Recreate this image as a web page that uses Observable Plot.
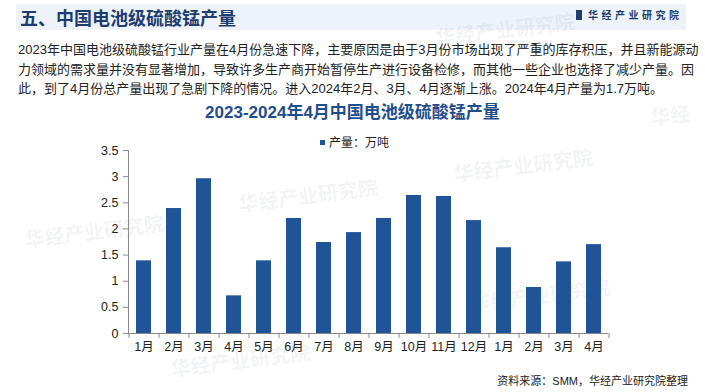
<!DOCTYPE html>
<html><head><meta charset="utf-8">
<script src="https://cdn.jsdelivr.net/npm/d3@7"></script>
<script src="https://cdn.jsdelivr.net/npm/@observablehq/plot@0.6"></script>
<style>
body{margin:0;width:705px;height:392px;background:#fff;position:relative;overflow:hidden;font-family:"Liberation Sans","Noto Sans CJK SC",sans-serif;}
#hdr{position:absolute;left:16px;top:4px;width:670px;height:26px;background:#eef3fa;}
#htitle{position:absolute;left:20px;top:4px;height:26px;line-height:26px;font-size:18px;font-weight:bold;color:#1f3c6e;font-family:"Noto Sans CJK SC",sans-serif;white-space:nowrap}
#logo{position:absolute;left:576px;top:8px;font-size:10px;line-height:14px;color:#1f3c6e;letter-spacing:3.5px;font-weight:bold;white-space:nowrap;font-family:"Noto Sans CJK SC",sans-serif}
#logo i{display:inline-block;width:6px;height:10px;background:#1f3c6e;margin-right:6px;vertical-align:-1px}
#para{position:absolute;left:18px;top:40px;font-size:13px;line-height:19.5px;color:#222;white-space:nowrap}
#ctitle{position:absolute;left:0;width:705px;top:101px;text-align:center;font-size:17px;line-height:24px;font-weight:bold;color:#1f4e8c;white-space:nowrap}
#legend{position:absolute;left:320px;top:135px;font-size:12px;line-height:16px;color:#222;white-space:nowrap}
#legend i{display:inline-block;width:5px;height:5px;background:#1F5596;margin-right:4px;vertical-align:2px}
#chart{position:absolute;left:0;top:140px}
#src{position:absolute;right:17px;top:373px;font-size:11px;line-height:16px;color:#222;white-space:nowrap}
.wm{position:absolute;font-size:20px;font-weight:bold;color:rgba(120,130,150,0.10);transform:rotate(-7deg);white-space:nowrap;font-family:"Noto Sans CJK SC",sans-serif;pointer-events:none}
</style>
</head>
<body>
<div id="hdr"></div>
<div class="wm" style="left:24px;top:216px">华经产业研究院</div>
<div class="wm" style="left:238px;top:180px">华经产业研究院</div>
<div class="wm" style="left:453px;top:150px">华经产业研究院</div>
<div class="wm" style="left:470px;top:280px">华经产业研究院</div>
<div class="wm" style="left:435px;top:14px">华经产业研究院</div>
<div class="wm" style="left:650px;top:100px">华经</div>
<div class="wm" style="left:170px;top:345px">华经产业研究院</div>
<div id="htitle">五、中国电池级硫酸锰产量</div>
<div id="logo"><i></i>华经产业研究院</div>
<div id="para">2023年中国电池级硫酸锰行业产量在4月份急速下降，主要原因是由于3月份市场出现了严重的库存积压，并且新能源动<br>力领域的需求量并没有显著增加，导致许多生产商开始暂停生产进行设备检修，而其他一些企业也选择了减少产量。因<br>此，到了4月份总产量出现了急剧下降的情况。进入2024年2月、3月、4月逐渐上涨。2024年4月产量为1.7万吨。</div>
<div id="ctitle">2023-2024年4月中国电池级硫酸锰产量</div>
<div id="chart"></div>
<div id="legend"><i></i>产量：万吨</div>
<div id="src">资料来源：SMM，华经产业研究院整理</div>
<script>
const months = ["1月","2月","3月","4月","5月","6月","7月","8月","9月","10月","11月","12月","1月","2月","3月","4月"];
const output = [1.39,2.39,2.96,0.72,1.39,2.20,1.74,1.93,2.20,2.64,2.62,2.16,1.64,0.88,1.37,1.70];
const yTicks = [0,0.5,1,1.5,2,2.5,3,3.5];

const data = months.map((m,i)=>({key:i,label:m,value:output[i]}));
const keys = data.map(d=>d.key);

const chart = Plot.plot({
  width:705, height:220,
  marginTop:10, marginBottom:27, marginLeft:128, marginRight:97,
  style:{fontFamily:'"Liberation Sans","Noto Sans CJK SC",sans-serif',fontSize:"12.5px",color:"#222",background:"transparent",overflow:"visible"},
  x:{type:"band", domain:keys, paddingInner:0.5, paddingOuter:0.25, label:null},
  y:{domain:[0,3.5], label:null},
  marks:[
    Plot.barY(data,{x:"key", y:"value", fill:"#1F5597"}),
    Plot.ruleY([0],{stroke:"#888"}),
    Plot.frame({anchor:"left", stroke:"#888"}),
    Plot.axisY({ticks:yTicks, tickFormat:d=>String(d), tickSize:5, tickPadding:5, stroke:"#888", fill:"#222", label:null}),
    Plot.axisX({tickSize:0, tickPadding:9, tickFormat:i=>months[i], fill:"#222", label:null}),
    Plot.axisX({tickSize:5, tickFormat:()=>"", dx:-15, stroke:"#888", label:null}),
    Plot.axisX({ticks:[keys[keys.length-1]], tickSize:5, tickFormat:()=>"", dx:15, stroke:"#888", label:null})
  ]
});
document.getElementById("chart").appendChild(chart);
</script>
</body></html>
